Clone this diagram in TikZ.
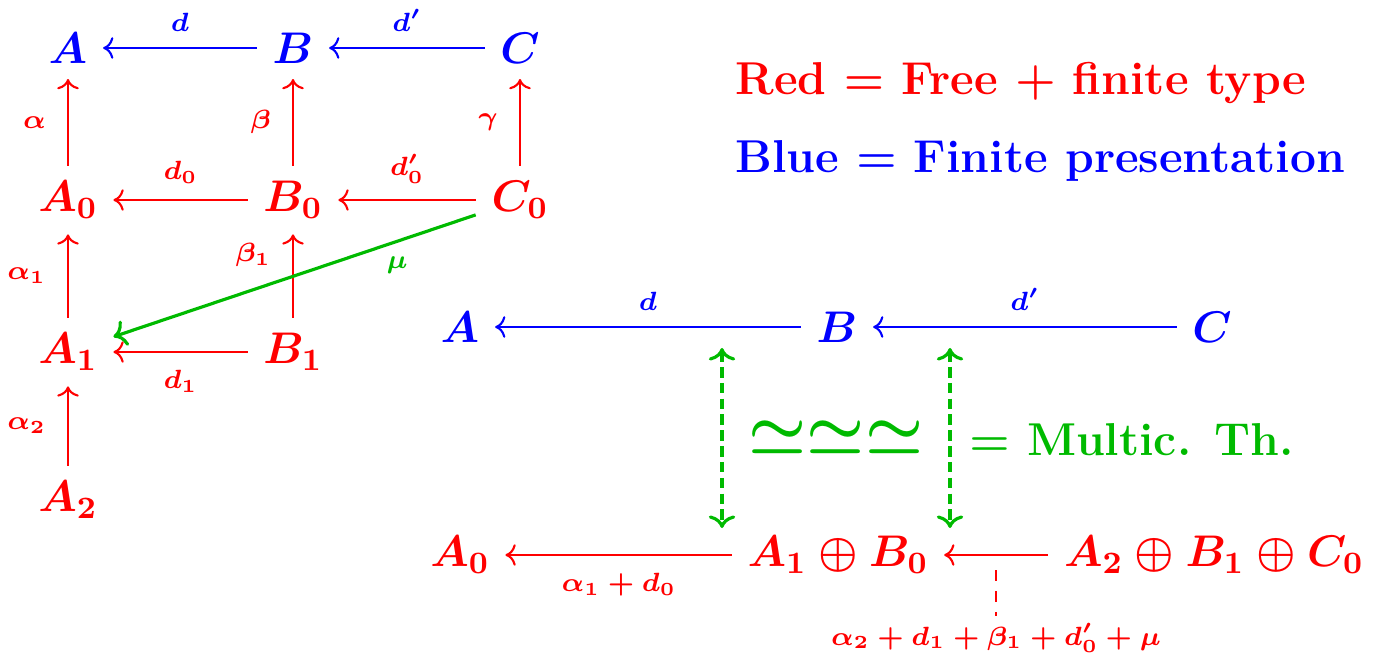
\documentclass[tikz,border=0pt]{standalone}
\usepackage{fix-cm}
\usepackage{amsmath}
\usepackage{xcolor}
\usepackage{tikz}
\usetikzlibrary{arrows.meta}
\definecolor{freered}{rgb}{1,0,0}
\definecolor{presblue}{rgb}{0,0,1}
\definecolor{isogreen}{HTML}{00BA00}

\begin{document}
\begin{tikzpicture}[
  x=0.01cm, y=-0.01cm,
  obj/.style={font=\fontsize{12.6}{15}\selectfont\boldmath, inner sep=4.3pt},
  lbl/.style={font=\fontsize{7.5}{9}\selectfont\boldmath, inner sep=2pt},
  red/.style={text=freered, draw=none},
  blue/.style={text=presblue, draw=none},
  fmap/.style={->, draw=freered, line width=0.6pt},
  pmap/.style={->, draw=presblue, line width=0.6pt},
  multmap/.style={->, draw=isogreen, line width=0.9pt},
  iso/.style={<->, draw=isogreen, line width=0.9pt, dash pattern=on 3pt off 1.5pt},
  up/.style={above, yshift=2.5pt},
  down/.style={below, yshift=-3pt},
  side/.style={left, xshift=-4pt},
  legend/.style={font=\fontsize{13.1}{16}\selectfont\bfseries\boldmath, anchor=west}
]
\useasboundingbox (0,0) rectangle (1376,661);

%% ---- resolution grid (left) ----------------------------------------------
\node[obj, blue] (lA) at (68,48)  {$A$};
\node[obj, blue] (lB) at (293,48) {$B$};
\node[obj, blue] (lC) at (520,48) {$C$};
\node[obj, red] (lA0) at (68,200)  {$A_0$};
\node[obj, red] (lB0) at (293,200) {$B_0$};
\node[obj, red] (lC0) at (520,200) {$C_0$};
\node[obj, red] (lA1) at (68,352)  {$A_1$};
\node[obj, red] (lB1) at (293,352) {$B_1$};
\node[obj, red] (lA2) at (68,500)  {$A_2$};

\draw[pmap] (lB) -- node[lbl, up, text=presblue] {$d$} (lA);
\draw[pmap] (lC) -- node[lbl, up, text=presblue] {$d'$} (lB);

\draw[fmap] (lA0) -- node[lbl, side, text=freered] {$\alpha$} (lA);
\draw[fmap] (lB0) -- node[lbl, side, text=freered] {$\beta$} (lB);
\draw[fmap] (lC0) -- node[lbl, side, text=freered] {$\gamma$} (lC);
\draw[fmap] (lB0) -- node[lbl, up, text=freered] {$d_0$} (lA0);
\draw[fmap] (lC0) -- node[lbl, up, text=freered] {$d'_0$} (lB0);

\draw[fmap] (lA1) -- node[lbl, side, text=freered] {$\alpha_1$} (lA0);
\draw[fmap] (lB1) -- node[lbl, side, text=freered, pos=0.75] {$\beta_1$} (lB0);
\draw[fmap] (lB1) -- node[lbl, down, text=freered] {$d_1$} (lA1);
\draw[fmap] (lA2) -- node[lbl, side, text=freered] {$\alpha_2$} (lA1);

\draw[multmap] (lC0) -- node[lbl, below right, pos=0.27, text=isogreen] {$\mu$} (lA1);

%% ---- legend ----------------------------------------------------------------
\node[legend, text=freered]  (redkey)  at (723,83)  {Red $=$ Free $+$ finite type};
\node[legend, text=presblue] (bluekey) at (723,161) {Blue $=$ Finite presentation};

%% ---- total complex (right) -------------------------------------------------
\node[obj, blue] (rA) at (460,327)  {$A$};
\node[obj, blue] (rB) at (837,327)  {$B$};
\node[obj, blue] (rC) at (1212,327) {$C$};
\node[obj, red] (rA0)  at (460,555)  {$A_0$};
\node[obj, red] (rAB)  at (838,555)  {$A_1\oplus B_0$};
\node[obj, red] (rABC) at (1214,555) {$A_2\oplus B_1\oplus C_0$};

\draw[pmap] (rB) -- node[lbl, up, text=presblue] {$d$} (rA);
\draw[pmap] (rC) -- node[lbl, up, text=presblue] {$d'$} (rB);
\draw[fmap] (rAB) -- node[lbl, down, text=freered] {$\alpha_1+d_0$} (rA0);
\draw[fmap] (rABC) -- (rAB);

\node[lbl, text=freered] (sumlbl) at (996,638)
  {$\alpha_2+d_1+\beta_1+d'_0+\mu$};
\coordinate (tietop) at (996,570);
\draw[freered, dashed, line width=0.6pt] (tietop) -- (sumlbl.north);

%% quasi-isomorphisms between the two rows
\coordinate (isoLtop) at (722,348);
\coordinate (isoLbot) at (722,528);
\coordinate (isoRtop) at (950,348);
\coordinate (isoRbot) at (950,528);
\draw[iso] (isoLtop) -- (isoLbot);
\draw[iso] (isoRtop) -- (isoRbot);

\node[font=\fontsize{18.5}{22}\selectfont\boldmath, text=isogreen] (qis) at (836,437)
  {$\simeq\simeq\simeq$};
\node[legend, text=isogreen] (multkey) at (957,440) {$=$ Multic. Th.};

\end{tikzpicture}
\end{document}
